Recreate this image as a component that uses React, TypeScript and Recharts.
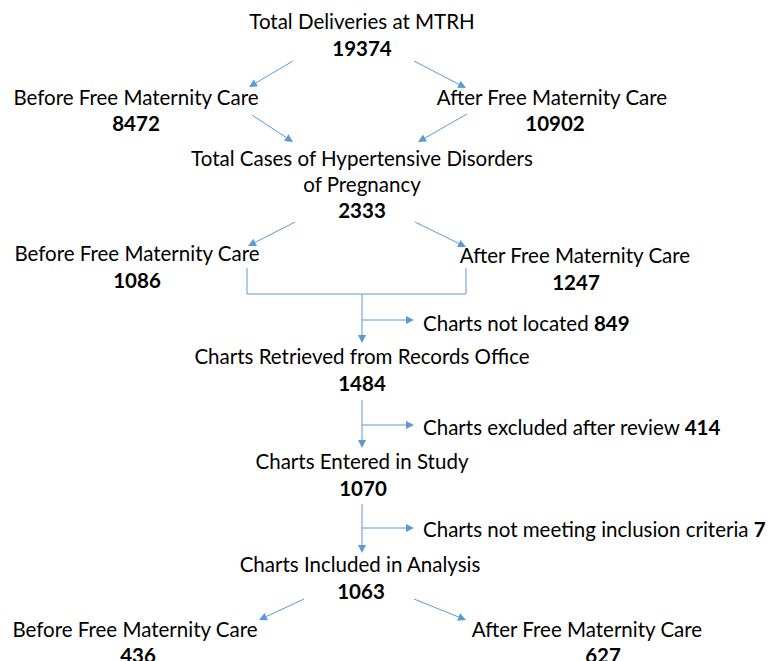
import React from 'react';
import { ScatterChart, Scatter, XAxis, YAxis, ReferenceLine } from 'recharts';

// ---- data ----
const nodeLabels: string[][] = [
  ['Total Deliveries at MTRH'],
  ['Before Free Maternity Care'],
  ['After Free Maternity Care'],
  ['Total Cases of Hypertensive Disorders', 'of Pregnancy'],
  ['Before Free Maternity Care'],
  ['After Free Maternity Care'],
  ['Charts Retrieved from Records Office'],
  ['Charts Entered in Study'],
  ['Charts Included in Analysis'],
  ['Before Free Maternity Care'],
  ['After Free Maternity Care'],
];
const nodeValues = [19374, 8472, 10902, 2333, 1086, 1247, 1484, 1070, 1063, 436, 627];
const exclusionLabels = ['Charts not located', 'Charts excluded after review', 'Charts not meeting inclusion criteria'];
const exclusionValues = [849, 414, 7];

// ---- layout (diagram coordinates) ----
const W = 771;
const H = 661;
const LINE = 26;
const nodeLabelPos = [
  [362, 29], [136, 105], [552, 105], [362, 166], [137, 261], [575, 263],
  [362, 364], [362, 469], [360, 572], [135, 637], [587, 637],
];
const nodeValuePos = [
  [362, 56], [136, 131], [555, 131], [362, 218], [137, 288], [576, 290],
  [362, 391], [363, 496], [361, 599], [138, 663], [603, 663],
];
const exclusionPos = [[423, 331], [423, 435], [423, 537]];
const arrows = [
  [293, 61, 249, 87], [414, 61, 466, 88],
  [252, 115, 293, 142], [467, 114, 418, 142],
  [295, 222, 248, 246], [415, 222, 466, 247],
  [362, 294, 362, 343], [362, 320, 414, 320],
  [362, 400, 362, 448], [362, 425, 414, 425],
  [362, 504, 362, 553], [362, 528, 414, 528],
  [304, 599, 259, 620], [414, 599, 466, 620],
];
const plainLines = [
  [247, 268, 247, 294], [466, 268, 466, 294], [247, 294, 466, 294],
];

const FONT = "Lato, 'Open Sans', 'Noto Sans', sans-serif";
const LABEL_SIZE = 20.5;
const VALUE_SIZE = 20.5;
const BLUE = '#5B9BD5';

const labelData = nodeLabels.map((lines, i) => ({ x: nodeLabelPos[i][0], y: nodeLabelPos[i][1], lines }));
const valueData = nodeValues.map((v, i) => ({ x: nodeValuePos[i][0], y: nodeValuePos[i][1], value: v }));
const exclusionData = exclusionLabels.map((l, i) => ({ x: exclusionPos[i][0], y: exclusionPos[i][1], label: l, value: exclusionValues[i] }));

const LabelShape = (props: any) => {
  const { cx, cy, payload } = props;
  return (
    <text x={cx} y={cy} textAnchor="middle" fontFamily={FONT} fontSize={LABEL_SIZE} fill="#000">
      {payload.lines.map((l: string, k: number) => (
        <tspan key={k} x={cx} dy={k === 0 ? 0 : LINE}>{l}</tspan>
      ))}
    </text>
  );
};
const ValueShape = (props: any) => {
  const { cx, cy, payload } = props;
  return (
    <text x={cx} y={cy} textAnchor="middle" fontFamily={FONT} fontSize={VALUE_SIZE} fontWeight="bold" fill="#000">
      {payload.value}
    </text>
  );
};
const ExclusionShape = (props: any) => {
  const { cx, cy, payload } = props;
  return (
    <text x={cx} y={cy} textAnchor="start" fontFamily={FONT} fontSize={LABEL_SIZE} fill="#000">
      {payload.label} <tspan fontWeight="bold" fontSize={VALUE_SIZE}>{payload.value}</tspan>
    </text>
  );
};

const ArrowShape = (props: any) => {
  const { x1, y1, x2, y2 } = props;
  const ang = Math.atan2(y2 - y1, x2 - x1);
  const L = 8;
  const hw = 4;
  const bx = x2 - L * Math.cos(ang);
  const by = y2 - L * Math.sin(ang);
  const px = -Math.sin(ang) * hw;
  const py = Math.cos(ang) * hw;
  return (
    <g>
      <line x1={x1} y1={y1} x2={bx} y2={by} stroke={BLUE} strokeWidth={1} />
      <polygon points={`${x2},${y2} ${bx + px},${by + py} ${bx - px},${by - py}`} fill={BLUE} />
    </g>
  );
};
const LineShape = (props: any) => {
  const { x1, y1, x2, y2 } = props;
  return <line x1={x1} y1={y1} x2={x2} y2={y2} stroke={BLUE} strokeWidth={1} />;
};

export default function App() {
  return (
    <div style={{ position: 'absolute', left: 0, top: 0, width: W, height: H, background: '#fff' }}>
      <ScatterChart width={W} height={H} margin={{ top: 0, right: 0, bottom: 0, left: 0 }}>
        <XAxis type="number" dataKey="x" domain={[0, W]} allowDataOverflow hide />
        <YAxis type="number" dataKey="y" domain={[0, H]} allowDataOverflow reversed hide />
        {plainLines.map((s, i) => (
          <ReferenceLine key={`p${i}`} segment={[{ x: s[0], y: s[1] }, { x: s[2], y: s[3] }]} ifOverflow="visible" shape={LineShape} />
        ))}
        {arrows.map((s, i) => (
          <ReferenceLine key={`a${i}`} segment={[{ x: s[0], y: s[1] }, { x: s[2], y: s[3] }]} ifOverflow="visible" shape={ArrowShape} />
        ))}
        <Scatter data={labelData} shape={LabelShape} isAnimationActive={false} />
        <Scatter data={valueData} shape={ValueShape} isAnimationActive={false} />
        <Scatter data={exclusionData} shape={ExclusionShape} isAnimationActive={false} />
      </ScatterChart>
    </div>
  );
}
